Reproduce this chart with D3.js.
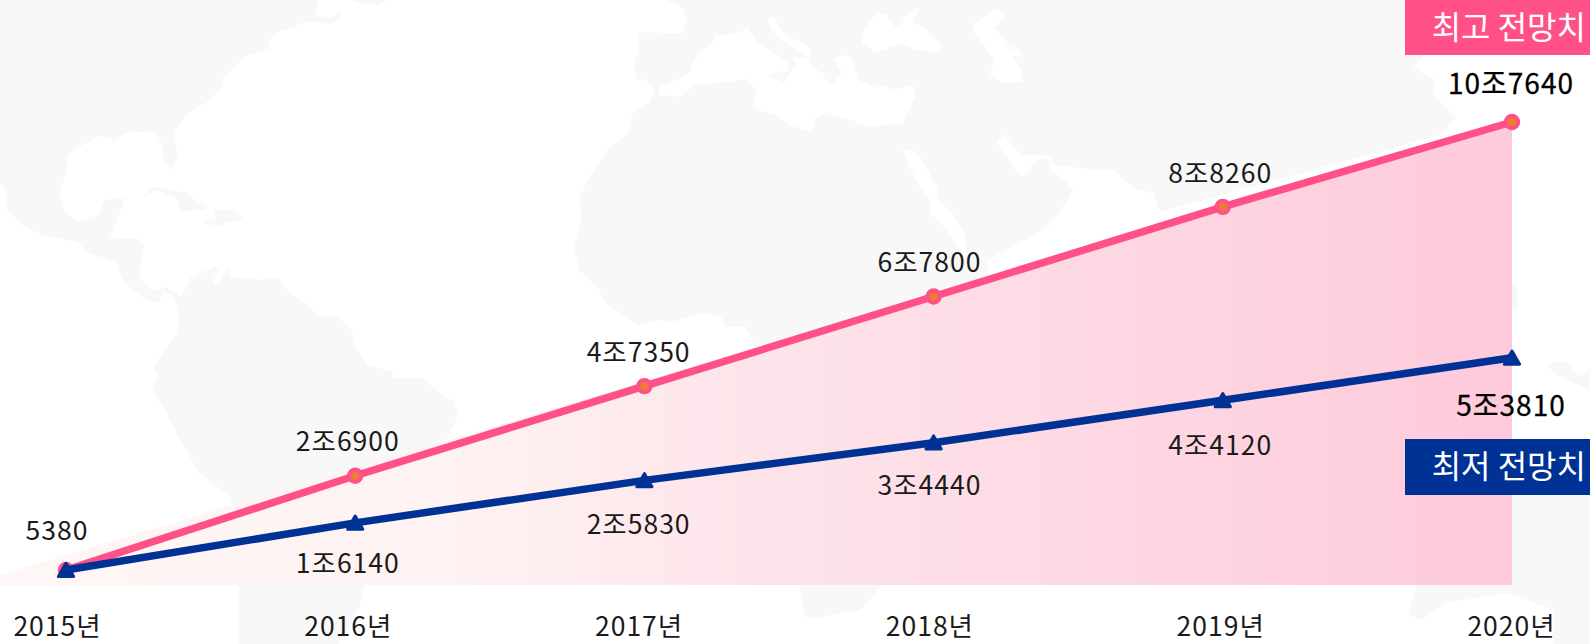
<!DOCTYPE html>
<html>
<head>
<meta charset="utf-8">
<script src="https://cdnjs.cloudflare.com/ajax/libs/d3/7.8.5/d3.min.js"></script>
<style>
  html, body { margin: 0; padding: 0; background: #fff; overflow: hidden; }
  text { font-family: "Noto Sans CJK KR", "Noto Sans", sans-serif; }
  .axis-label text { font-size: 26.5px; fill: #1a1a1a; letter-spacing: 1px; }
  .value-label { font-size: 26.5px; fill: #1a1a1a; text-anchor: middle; letter-spacing: 1px; }
  .value-label.last { fill: #000; stroke: #000; stroke-width: 0.3px; font-size: 28px; letter-spacing: 1px; }
  .badge-label { font-size: 32px; fill: #fff; text-anchor: end; }
</style>
</head>
<body>
<div class="chart"></div>
<script>
// Chart data
var years = [2015, 2016, 2017, 2018, 2019, 2020];
var highValues = [5380, 26900, 47350, 67800, 88260, 107640];
var lowValues = [5380, 16140, 25830, 34440, 44120, 53810];
var highLabels = ["5380", "2조6900", "4조7350", "6조7800", "8조8260", "10조7640"];
var lowLabels = ["", "1조6140", "2조5830", "3조4440", "4조4120", "5조3810"];
var badgeNames = ["최고 전망치", "최저 전망치"];

// Shaded wedge behind the lines: it starts left of the first year, slightly off the high line
var wedgeYears = [2014.772, 2020];
var wedgeTops = [4240, 107900];
var wedgeBase = 1955;

// Background world map, traced by hand in page pixels (decoration only)
var landRings = [
  "M0,0L319,0L315,12L322,18L334,17L341,9L341,17L332,24L309,21L293,27L276,33L268,43L270,48L245,57L235,67L223,77L222,88L210,100L189,113L174,132L178,157L172,170L163,160L162,143L156,134L143,132L125,133L115,140L97,136L67,155L67,170L59,193L64,210L77,222L98,215L105,200L125,198L110,239L137,239L144,247L139,277L152,291L166,287L181,297L191,277L214,267L220,267L212,283L217,287L227,268L232,277L260,280L278,277L288,292L301,300L319,315L337,317L351,328L355,345L367,365L393,372L393,378L423,378L446,398L453,400L458,415L448,437L400,520L364,587L360,607L339,642L339,644L239,644L239,587L231,497L199,473L180,440L165,410L153,393L152,387L159,378L154,368L166,347L178,333L178,308L171,295L163,292L158,303L143,297L124,283L116,263L89,253L77,242L60,239L43,235L23,225L5,208L8,197L0,182Z",
  "M143,198L153,187L189,193L196,203L208,206L204,210L181,211L176,198L156,190Z",
  "M214,210L235,209L244,220L227,222L220,227L204,223L204,220L215,219Z",
  "M352,0L357,3L378,5L388,0Z",
  "M667,0L682,8L687,20L683,33L665,33L645,32L638,35L639,50L634,63L636,80L645,79L655,90L650,102L633,113L628,133L607,150L592,173L579,197L582,217L574,248L579,270L599,290L605,303L638,325L658,320L673,322L704,312L722,317L724,327L745,327L750,333L790,450L799,585L805,617L815,618L840,613L861,610L882,585L940,450L990,265L1160,212L1440,135L1457,117L1432,95L1435,80L1413,67L1423,57L1423,55L1590,55L1590,0Z",
  "M1417,585L1408,613L1420,620L1447,603L1480,597L1507,593L1553,610L1553,644L1590,644L1590,495L1512,495L1512,585Z",
  "M1547,363L1567,362L1578,377L1590,370L1590,390L1567,380L1553,373Z",
  "M1512,283L1518,290L1518,308L1512,310Z"
];
var seaRings = [
  "M658,93L660,87L680,78L690,72L692,65L700,52L713,43L715,35L732,35L748,28L757,42L770,50L788,63L788,70L768,75L785,83L787,76L797,65L793,58L803,57L810,60L813,68L823,73L827,83L835,83L835,78L842,73L833,58L845,55L852,58L858,80L877,88L883,85L895,90L913,85L915,97L903,123L870,127L828,112L813,120L815,128L810,132L790,125L773,113L763,112L753,105L757,92L748,79L725,82L693,85L680,97L660,95Z",
  "M768,18L773,17L783,32L810,48L810,58L785,43L770,28Z",
  "M877,12L887,15L895,27L905,23L902,17L920,7L912,22L927,30L942,45L937,52L917,50L902,43L877,52L862,43L863,32Z",
  "M995,8L1005,13L1003,20L993,28L1007,42L1010,52L1015,45L1022,55L1012,57L1022,70L1022,82L1003,83L990,75L995,60L977,37L972,25L983,17Z",
  "M903,150L912,150L922,160L937,187L937,200L950,210L965,235L967,262L958,245L938,220L930,213L930,200L920,187L910,167Z",
  "M987,260L1030,237L1048,227L1063,207L1073,190L1065,180L1050,170L1048,157L1037,160L1023,177L1013,167L997,143L1003,133L1010,143L1022,155L1048,155L1055,165L1100,170L1113,170L1136,190L1154,193L1162,220L1162,240L990,300Z"
];

var svgWidth = 1590;
var svgHeight = 644;

var svg = d3.select(".chart")
  .append("svg")
  .attr("width", svgWidth)
  .attr("height", svgHeight)
  .style("display", "block");

// Scales
var xScale = d3.scaleLinear().domain([2015, 2020]).range([66, 1512]);
var yScale = d3.scaleLinear().domain([5380, 107640]).range([570, 122]);

// The year and value labels sit on a slightly different grid than the points
var labelX = d3.scaleLinear().domain([2015, 2020]).range([57, 1511]);
var highLabelY = d3.scaleLinear().domain([2015, 2020]).range([540, 94]);
var lowLabelY = d3.scaleLinear().domain([2016, 2020]).range([573, 416]);

// Gradient for the wedge
var defs = svg.append("defs");
var gradient = defs.append("linearGradient")
  .attr("id", "wedgeFill")
  .attr("x1", "0%").attr("x2", "100%")
  .attr("y1", "0%").attr("y2", "0%");
gradient.append("stop").attr("offset", "0%").attr("stop-color", "#fff7f5");
gradient.append("stop").attr("offset", "30%").attr("stop-color", "#fef2f2");
gradient.append("stop").attr("offset", "50%").attr("stop-color", "#fde4ea");
gradient.append("stop").attr("offset", "100%").attr("stop-color", "#fecadb");

// Map
var mapGroup = svg.append("g");
mapGroup.selectAll(".land").data(landRings).enter().append("path")
  .attr("class", "land")
  .attr("d", d => d)
  .attr("fill", "#f8f8f8");
mapGroup.selectAll(".sea").data(seaRings).enter().append("path")
  .attr("class", "sea")
  .attr("d", d => d)
  .attr("fill", "#fff");

// Wedge
var wedgeArea = d3.area()
  .x((d, i) => xScale(wedgeYears[i]))
  .y0(yScale(wedgeBase))
  .y1(d => yScale(d));
svg.append("path")
  .attr("d", wedgeArea(wedgeTops))
  .attr("fill", "url(#wedgeFill)");

// Lines
var lineGen = d3.line()
  .x((d, i) => xScale(years[i]))
  .y(d => yScale(d));

svg.append("path")
  .attr("d", lineGen(highValues))
  .attr("fill", "none")
  .attr("stroke", "#ff5088")
  .attr("stroke-width", 7.5);

svg.selectAll(".high-dot")
  .data(highValues)
  .enter()
  .append("circle")
  .attr("class", "high-dot")
  .attr("cx", (d, i) => xScale(years[i]))
  .attr("cy", d => yScale(d))
  .attr("r", 6.2)
  .attr("fill", "#ed7d31")
  .attr("stroke", "#ff5088")
  .attr("stroke-width", 4);

svg.append("path")
  .attr("d", lineGen(lowValues))
  .attr("fill", "none")
  .attr("stroke", "#003296")
  .attr("stroke-width", 7.5);

var triangle = d3.symbol().type(d3.symbolTriangle).size(100);
svg.selectAll(".low-dot")
  .data(lowValues)
  .enter()
  .append("path")
  .attr("class", "low-dot")
  .attr("d", triangle)
  .attr("transform", (d, i) => `translate(${xScale(years[i])}, ${yScale(d) + 2})`)
  .attr("fill", "#003296")
  .attr("stroke", "#003296")
  .attr("stroke-width", 3)
  .attr("stroke-linejoin", "round");

// Value labels
svg.selectAll(".high-label")
  .data(highLabels)
  .enter()
  .append("text")
  .attr("class", (d, i) => i === highLabels.length - 1 ? "value-label last" : "value-label")
  .attr("x", (d, i) => labelX(years[i]))
  .attr("y", (d, i) => highLabelY(years[i]))
  .text(d => d);

svg.selectAll(".low-label")
  .data(lowLabels.slice(1))
  .enter()
  .append("text")
  .attr("class", (d, i) => i === lowLabels.length - 2 ? "value-label last" : "value-label")
  .attr("x", (d, i) => labelX(years[i + 1]))
  .attr("y", (d, i) => lowLabelY(years[i + 1]))
  .text(d => d);

// Year axis, labels only
var bottomAxis = d3.axisBottom(labelX)
  .tickValues(years)
  .tickSize(0)
  .tickFormat(d => d + "년");
svg.append("g")
  .attr("class", "axis-label")
  .attr("transform", "translate(0, 614)")
  .call(bottomAxis)
  .call(g => g.select(".domain").remove());

// Badges on the right
var badgeColors = ["#ff5088", "#003296"];
var badgeTops = [0, 439];
var badgeGroup = svg.selectAll(".badge")
  .data(badgeNames)
  .enter()
  .append("g")
  .attr("class", "badge")
  .attr("transform", (d, i) => `translate(1405, ${badgeTops[i]})`);
badgeGroup.append("rect")
  .attr("width", 185)
  .attr("height", (d, i) => i === 0 ? 55 : 56)
  .attr("fill", (d, i) => badgeColors[i]);
badgeGroup.append("text")
  .attr("class", "badge-label")
  .attr("x", 181)
  .attr("y", 39)
  .text(d => d);
</script>
</body>
</html>
